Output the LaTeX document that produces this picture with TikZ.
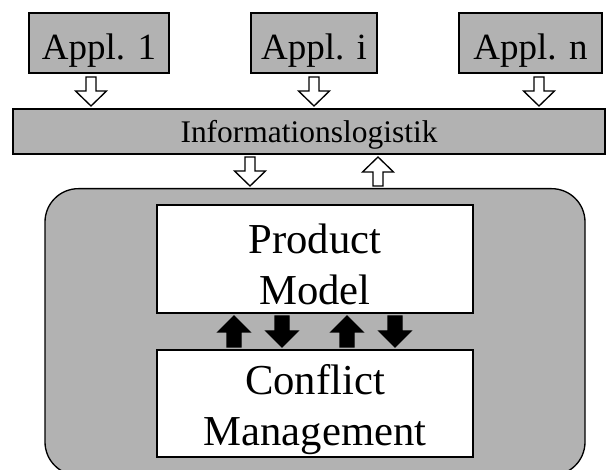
\documentclass[tikz,border=0pt]{standalone}
\usepackage{fontspec}
\setmainfont{Liberation Serif}
\begin{document}
\begin{tikzpicture}[x=0.75pt, y=-0.75pt, line width=1pt,
    appl/.style={draw, fill=black!30, minimum height=45pt, inner sep=0pt,
        text height=25.5pt, text depth=0pt, font=\fontsize{27.75}{33}\selectfont},
    infobar/.style={draw, fill=black!30, minimum width=444pt, minimum height=33.75pt,
        inner sep=0pt, text height=17.25pt, text depth=0pt, font=\fontsize{23.6}{28}\selectfont},
    whitebox/.style={draw, fill=white, minimum width=237pt, minimum height=81pt, inner sep=0pt},
    boxtext/.style={align=center, inner sep=0pt, font=\fontsize{32}{38.5}\selectfont},
    hollow/.style={draw, fill=white, line join=miter},
    solid/.style={draw, fill=black, line join=miter},
    pics/hollowarrow/.style={code={
        \draw[hollow] (-5,0) -- (5,0) -- (5,14) -- (15.5,14) -- (0,29)
            -- (-15.5,14) -- (-5,14) -- cycle;}},
    pics/solidarrow/.style={code={
        \draw[solid] (-7,0) -- (7,0) -- (7,15) -- (16,15) -- (0,31)
            -- (-16,15) -- (-7,15) -- cycle;}}]
    \useasboundingbox (0,0) rectangle (607,470);

    % Applications
    \node[appl, minimum width=105pt] (appl1) at (99,43) {Appl. 1};
    \node[appl, minimum width=94.5pt] (appli) at (314,43) {Appl. i};
    \node[appl, minimum width=107.25pt] (appln) at (530.5,43) {Appl. n};

    % Information logistics bar
    \node[infobar] (info) at (309,131.5) {Informationslogistik};

    % Core with product model and conflict management
    \node[draw, fill=black!30, rounded corners=25pt, minimum width=405pt,
        minimum height=215pt] (core) at (315,332) {};
    \node[whitebox] (model) at (315,259) {};
    \node[whitebox, minimum height=80.25pt] (conflict) at (315,403.5) {};
    \node[boxtext, yshift=-4pt] (modeltext) at (model.center) {Product\\Model};
    \node[boxtext, yshift=-4.5pt] (conflicttext) at (conflict.center) {Conflict\\Management};

    % Arrows
    \foreach \x in {91, 314, 539} {
        \pic at (\x,77) {hollowarrow};
    }
    \pic at (250,157) {hollowarrow};
    \pic[yscale=-1] at (378,186) {hollowarrow};

    \foreach \x in {234, 347} {
        \pic[yscale=-1] at (\x,347) {solidarrow};
    }
    \foreach \x in {282, 395} {
        \pic at (\x,316) {solidarrow};
    }
\end{tikzpicture}
\end{document}
